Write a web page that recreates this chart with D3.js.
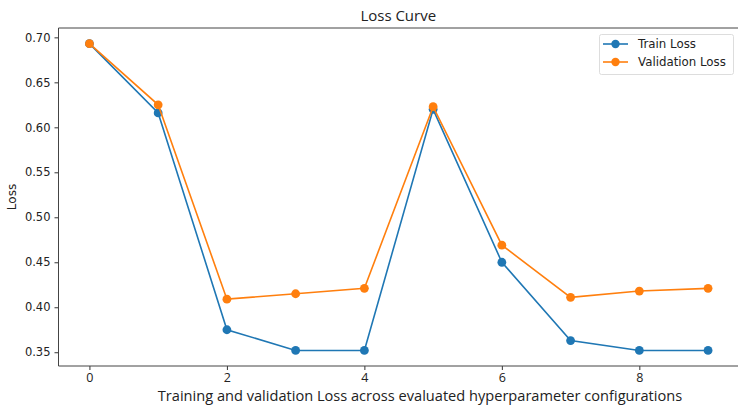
<!DOCTYPE html>
<html>
<head>
<meta charset="utf-8">
<script src="https://cdn.jsdelivr.net/npm/d3@7"></script>
<style>
  body { margin: 0; background: #fff; }
  svg { display: block; }
  .tick text { fill: #222; }
</style>
</head>
<body>
<div id="chart"></div>
<script>
const configs = [0, 1, 2, 3, 4, 5, 6, 7, 8, 9];
const trainLoss = [0.693, 0.616, 0.375, 0.352, 0.352, 0.620, 0.450, 0.363, 0.352, 0.352];
const valLoss = [0.693, 0.625, 0.409, 0.415, 0.421, 0.623, 0.469, 0.411, 0.418, 0.421];
const xTicks = [0, 2, 4, 6, 8];
const yTicks = [0.35, 0.40, 0.45, 0.50, 0.55, 0.60, 0.65, 0.70];

const series = [
  { name: "Train Loss", color: "#1f77b4", values: trainLoss },
  { name: "Validation Loss", color: "#ff7f0e", values: valLoss },
];

const width = 738;
const height = 405;
const marginLeft = 58.5;
const marginRight = -1;
const marginTop = 28;
const marginBottom = 39;

const svg = d3
  .select("#chart")
  .append("svg")
  .attr("width", width)
  .attr("height", height);

const x = d3
  .scaleLinear()
  .domain([-0.45, 9.45])
  .range([marginLeft, width - marginRight]);

// y limits estimated from the tick positions
const y = d3
  .scaleLinear()
  .domain([0.3347, 0.7104])
  .range([height - marginBottom, marginTop]);

svg
  .append("g")
  .attr("transform", `translate(0,${height - marginBottom})`)
  .call(d3.axisBottom(x).tickValues(xTicks).tickFormat(d3.format("d")).tickSize(4).tickPadding(3))
  .call((g) => g.select(".domain").remove())
  .call((g) => g.selectAll("line").attr("stroke", "#333"))
  .call((g) =>
    g.selectAll("text").attr("font-family", "Open Sans").attr("font-size", 12.5)
  );

svg
  .append("g")
  .attr("transform", `translate(${marginLeft},0)`)
  .call(d3.axisLeft(y).tickValues(yTicks).tickFormat(d3.format(".2f")).tickSize(4).tickPadding(4))
  .call((g) => g.select(".domain").remove())
  .call((g) => g.selectAll("line").attr("stroke", "#333"))
  .call((g) =>
    g.selectAll("text").attr("font-family", "DejaVu Sans").attr("font-size", 11.5)
  );

// spines
const frame = svg.append("g").attr("fill", "none").attr("stroke", "#444").attr("stroke-width", 1);
frame.append("line").attr("x1", marginLeft).attr("x2", marginLeft).attr("y1", marginTop).attr("y2", height - marginBottom);
frame.append("line").attr("x1", marginLeft).attr("x2", width).attr("y1", height - marginBottom).attr("y2", height - marginBottom);
frame.append("line").attr("x1", marginLeft).attr("x2", width).attr("y1", marginTop).attr("y2", marginTop);

const line = d3
  .line()
  .x((d, i) => x(configs[i]))
  .y((d) => y(d));

const seriesG = svg
  .selectAll(".series")
  .data(series)
  .join("g")
  .attr("class", "series");

seriesG
  .append("path")
  .attr("fill", "none")
  .attr("stroke", (d) => d.color)
  .attr("stroke-width", 1.6)
  .attr("d", (d) => line(d.values));

seriesG
  .selectAll("circle")
  .data((d) => d.values.map((v, i) => ({ v, i, color: d.color })))
  .join("circle")
  .attr("cx", (d) => x(configs[d.i]))
  .attr("cy", (d) => y(d.v))
  .attr("r", 4.4)
  .attr("fill", (d) => d.color);

// title and labels
svg
  .append("text")
  .attr("x", (marginLeft + width) / 2)
  .attr("y", 21)
  .attr("text-anchor", "middle")
  .attr("font-family", "Open Sans")
  .attr("font-size", 15)
  .attr("fill", "#222")
  .text("Loss Curve");

svg
  .append("text")
  .attr("x", 420)
  .attr("y", 401)
  .attr("text-anchor", "middle")
  .attr("font-family", "Open Sans")
  .attr("font-size", 14.6)
  .attr("fill", "#222")
  .text("Training and validation Loss across evaluated hyperparameter configurations");

svg
  .append("text")
  .attr("transform", `translate(16,${(marginTop + height - marginBottom) / 2}) rotate(-90)`)
  .attr("text-anchor", "middle")
  .attr("font-family", "DejaVu Sans")
  .attr("font-size", 12)
  .attr("fill", "#222")
  .text("Loss");

// legend
const legend = svg.append("g").attr("transform", "translate(599,34)");
legend
  .append("rect")
  .attr("x", 0.5)
  .attr("y", 0.5)
  .attr("width", 134)
  .attr("height", 40)
  .attr("rx", 2)
  .attr("fill", "#fff")
  .attr("fill-opacity", 0.8)
  .attr("stroke", "#ddd");

const item = legend
  .selectAll(".item")
  .data(series)
  .join("g")
  .attr("class", "item")
  .attr("transform", (d, i) => `translate(0,${10 + i * 18})`);

item
  .append("line")
  .attr("x1", 4)
  .attr("x2", 29)
  .attr("stroke", (d) => d.color)
  .attr("stroke-width", 1.6);

item
  .append("circle")
  .attr("cx", 16.5)
  .attr("r", 4.2)
  .attr("fill", (d) => d.color);

item
  .append("text")
  .attr("x", 39)
  .attr("dy", "0.35em")
  .attr("font-family", "DejaVu Sans")
  .attr("font-size", 11.8)
  .attr("fill", "#222")
  .text((d) => d.name);
</script>
</body>
</html>
